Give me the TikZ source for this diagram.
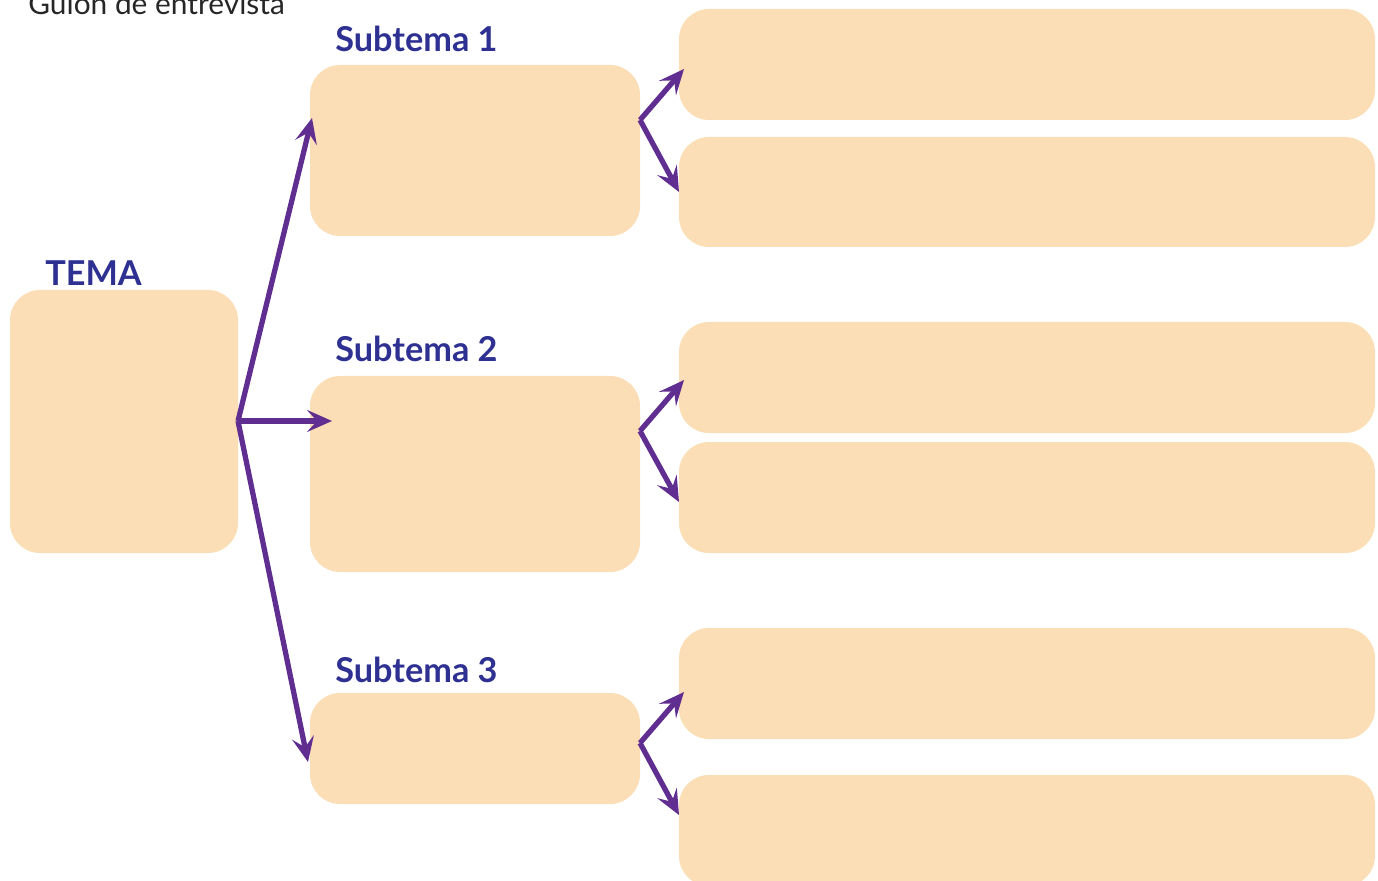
\documentclass[tikz,border=0pt]{standalone}
\usepackage{fontspec}
\setmainfont{Lato}
\usepackage{tikz}
\usetikzlibrary{arrows.meta, calc}

\definecolor{boxfill}{HTML}{FCDEB6}
\definecolor{arrowpurple}{HTML}{602D91}
\definecolor{labelblue}{HTML}{2E3192}

\begin{document}
\begin{tikzpicture}[x=0.02cm, y=-0.02cm,
  card/.style={fill=boxfill, rounded corners=0.6cm},
  heading/.style={anchor=base west, inner sep=0pt, text=labelblue, font=\fontsize{19.5}{22}\selectfont\bfseries},
  link/.style={line width=3pt, arrowpurple, -{Stealth[length=5mm, width=4.4mm, inset=2mm]}}]
  \useasboundingbox (0,0) rectangle (1378,881);

  \node[anchor=base west, inner sep=0pt, font=\fontsize{17}{19}\selectfont, text=black!85] (title) at (28,15) {Guion de entrevista};

  % tema
  \fill[card] (10,290) rectangle (238,553);
  \coordinate (tema) at (238,421);
  \node[heading] (lbltema) at (45,286) {TEMA};

  % subtemas
  \fill[card] (310,65) rectangle (640,236);
  \fill[card] (310,376) rectangle (640,572);
  \fill[card] (310,693) rectangle (640,804);
  \node[heading] (lbl1) at (335,52) {Subtema 1};
  \node[heading] (lbl2) at (335,362) {Subtema 2};
  \node[heading] (lbl3) at (335,682) {Subtema 3};
  \coordinate (s1in) at (312,118);
  \coordinate (s2in) at (332,421);
  \coordinate (s3in) at (308,762);
  \coordinate (s1out) at (640,120);
  \coordinate (s2out) at (640,431);
  \coordinate (s3out) at (640,743);

  % respuestas
  \fill[card] (679,9) rectangle (1375,120);
  \fill[card] (679,137) rectangle (1375,247);
  \fill[card] (679,322) rectangle (1375,433);
  \fill[card] (679,442) rectangle (1375,553);
  \fill[card] (679,628) rectangle (1375,739);
  \fill[card] (679,775) rectangle (1375,886);
  \coordinate (r1a) at (684,69);
  \coordinate (r1b) at (679,192);
  \coordinate (r2a) at (684,380);
  \coordinate (r2b) at (679,502);
  \coordinate (r3a) at (684,692);
  \coordinate (r3b) at (679,815);

  \draw[link] (tema) -- (s1in);
  \draw[link] (tema) -- (s2in);
  \draw[link] (tema) -- (s3in);
  \draw[link] (s1out) -- (r1a);
  \draw[link] (s1out) -- (r1b);
  \draw[link] (s2out) -- (r2a);
  \draw[link] (s2out) -- (r2b);
  \draw[link] (s3out) -- (r3a);
  \draw[link] (s3out) -- (r3b);
\end{tikzpicture}
\end{document}
